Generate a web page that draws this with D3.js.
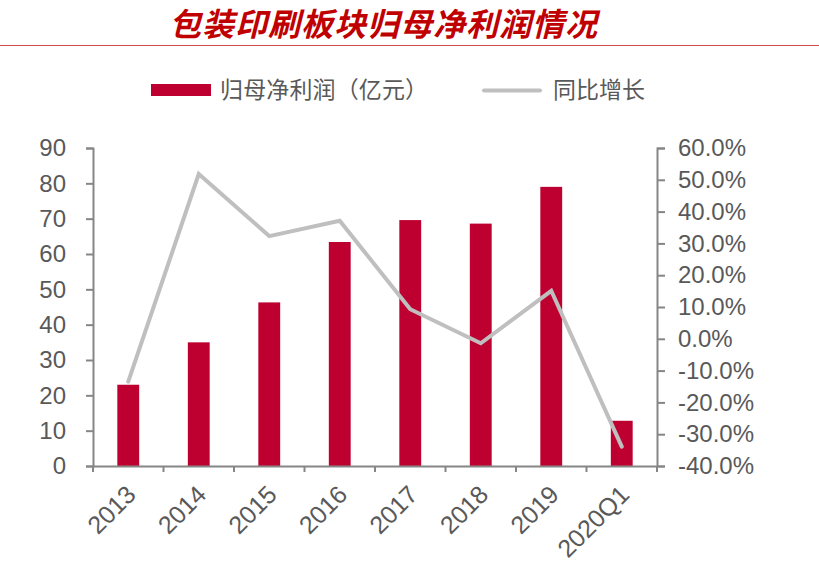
<!DOCTYPE html>
<html>
<head>
<meta charset="utf-8">
<script src="https://cdn.jsdelivr.net/npm/d3@7"></script>
<style>
  html, body { margin: 0; padding: 0; background: #fff; }
  svg { display: block; }
</style>
</head>
<body>
<svg id="chart" width="819" height="573"></svg>
<script>
const categories = ["2013", "2014", "2015", "2016", "2017", "2018", "2019", "2020Q1"];
const profitValues = [23.0, 35.0, 46.3, 63.4, 69.6, 68.6, 79.0, 12.8];
const growthValues = [-13.5, 51.8, 32.3, 37.1, 9.3, -1.4, 15.1, -33.9];
const leftTicks = [0, 10, 20, 30, 40, 50, 60, 70, 80, 90];
const rightTicks = [-40, -30, -20, -10, 0, 10, 20, 30, 40, 50, 60];
const titleText = "包装印刷板块归母净利润情况";
const legendLabels = ["归母净利润（亿元）", "同比增长"];

(function () {
const svg = d3.select("#chart");
const pLeft = 93, pRight = 657, pTop = 148, pBottom = 466;
const barColor = "#BE0031", lineColor = "#BFBFBF", axisColor = "#868686", textColor = "#595959";
const numFont = "'Liberation Sans', Arial, sans-serif";
const cjkFont = "'Noto Sans CJK SC', sans-serif";
const loc = d3.formatLocale({decimal: ".", thousands: ",", grouping: [3], currency: ["", ""], minus: "-"});
const pct = loc.format(".1f");

// Title
svg.append("text")
  .attr("x", 383).attr("y", 36)
  .attr("text-anchor", "middle")
  .attr("font-family", cjkFont)
  .attr("font-size", 32)
  .attr("font-weight", "bold")
  .attr("font-style", "italic")
  .attr("fill", "#C00000")
  .attr("textLength", 428)
  .attr("lengthAdjust", "spacing")
  .text(titleText);
svg.append("line")
  .attr("x1", 0).attr("x2", 819).attr("y1", 45.5).attr("y2", 45.5)
  .attr("stroke", "#D24B4B").attr("stroke-width", 1.2);

// Scales
const xOuter = d3.scaleBand().domain(categories).range([pLeft, pRight]).padding(0);
const xBar = d3.scaleBand().domain(categories).range([pLeft, pRight]).paddingInner(0.69).paddingOuter(0.345);
const yL = d3.scaleLinear().domain([0, 90]).range([pBottom, pTop]);
const yR = d3.scaleLinear().domain([-40, 60]).range([pBottom, pTop]);

// Bars
svg.append("g").selectAll("rect").data(categories).join("rect")
  .attr("x", d => xBar(d))
  .attr("width", xBar.bandwidth())
  .attr("y", (d, i) => yL(profitValues[i]))
  .attr("height", (d, i) => yL(0) - yL(profitValues[i]))
  .attr("fill", barColor);

// Axes
const leftAxis = d3.axisLeft(yL).tickValues(leftTicks).tickSize(7).tickPadding(20).tickFormat(d3.format("d"));
const gL = svg.append("g").attr("transform", `translate(${pLeft},0)`).call(leftAxis);
const rightAxis = d3.axisRight(yR).tickValues(rightTicks).tickSize(8).tickPadding(13).tickFormat(d => pct(d) + "%");
const gR = svg.append("g").attr("transform", `translate(${pRight},0)`).call(rightAxis);
const bottomAxis = d3.axisBottom(xOuter).tickValues([]).tickSizeOuter(0);
const gB = svg.append("g").attr("transform", `translate(0,${pBottom})`).call(bottomAxis);
gB.selectAll("line.bt").data(categories.concat(["__end"])).join("line")
  .attr("class", "bt")
  .attr("x1", d => d === "__end" ? pRight : xOuter(d))
  .attr("x2", d => d === "__end" ? pRight : xOuter(d))
  .attr("y1", 0).attr("y2", 6)
  .attr("stroke", axisColor).attr("stroke-width", 2);
gB.selectAll("text.cl").data(categories).join("text")
  .attr("class", "cl")
  .attr("transform", d => `translate(${xOuter(d) + xOuter.bandwidth() / 2 + 3},${24}) rotate(-45)`)
  .attr("text-anchor", "end")
  .attr("dy", "0.35em")
  .attr("font-family", numFont)
  .attr("font-size", 25)
  .attr("fill", textColor)
  .text(d => d);

[gL, gR, gB].forEach(g => {
  g.select(".domain").attr("stroke", axisColor).attr("stroke-width", 2);
  g.selectAll(".tick line").attr("stroke", axisColor).attr("stroke-width", 2);
  g.selectAll(".tick text").attr("font-family", numFont).attr("font-size", 24).attr("fill", textColor);
});

// Growth line
const line = d3.line()
  .x((d, i) => xOuter(categories[i]) + xOuter.bandwidth() / 2)
  .y(d => yR(d));
svg.append("path")
  .datum(growthValues)
  .attr("d", line)
  .attr("fill", "none")
  .attr("stroke", lineColor)
  .attr("stroke-width", 4)
  .attr("stroke-linejoin", "miter")
  .attr("stroke-linecap", "round");

// Legend
const lg = svg.append("g");
lg.append("rect").attr("x", 151).attr("y", 84).attr("width", 60).attr("height", 12).attr("fill", barColor);
lg.append("text").attr("x", 220).attr("y", 90).attr("dy", "0.36em")
  .attr("font-family", cjkFont).attr("font-size", 23).attr("fill", textColor)
  .attr("textLength", 208).attr("lengthAdjust", "spacing")
  .text(legendLabels[0]);
lg.append("line").attr("x1", 484).attr("x2", 540).attr("y1", 90.5).attr("y2", 90.5)
  .attr("stroke", lineColor).attr("stroke-width", 4).attr("stroke-linecap", "round");
lg.append("text").attr("x", 553).attr("y", 90).attr("dy", "0.36em")
  .attr("font-family", cjkFont).attr("font-size", 23).attr("fill", textColor)
  .text(legendLabels[1]);
})();
</script>
</body>
</html>
